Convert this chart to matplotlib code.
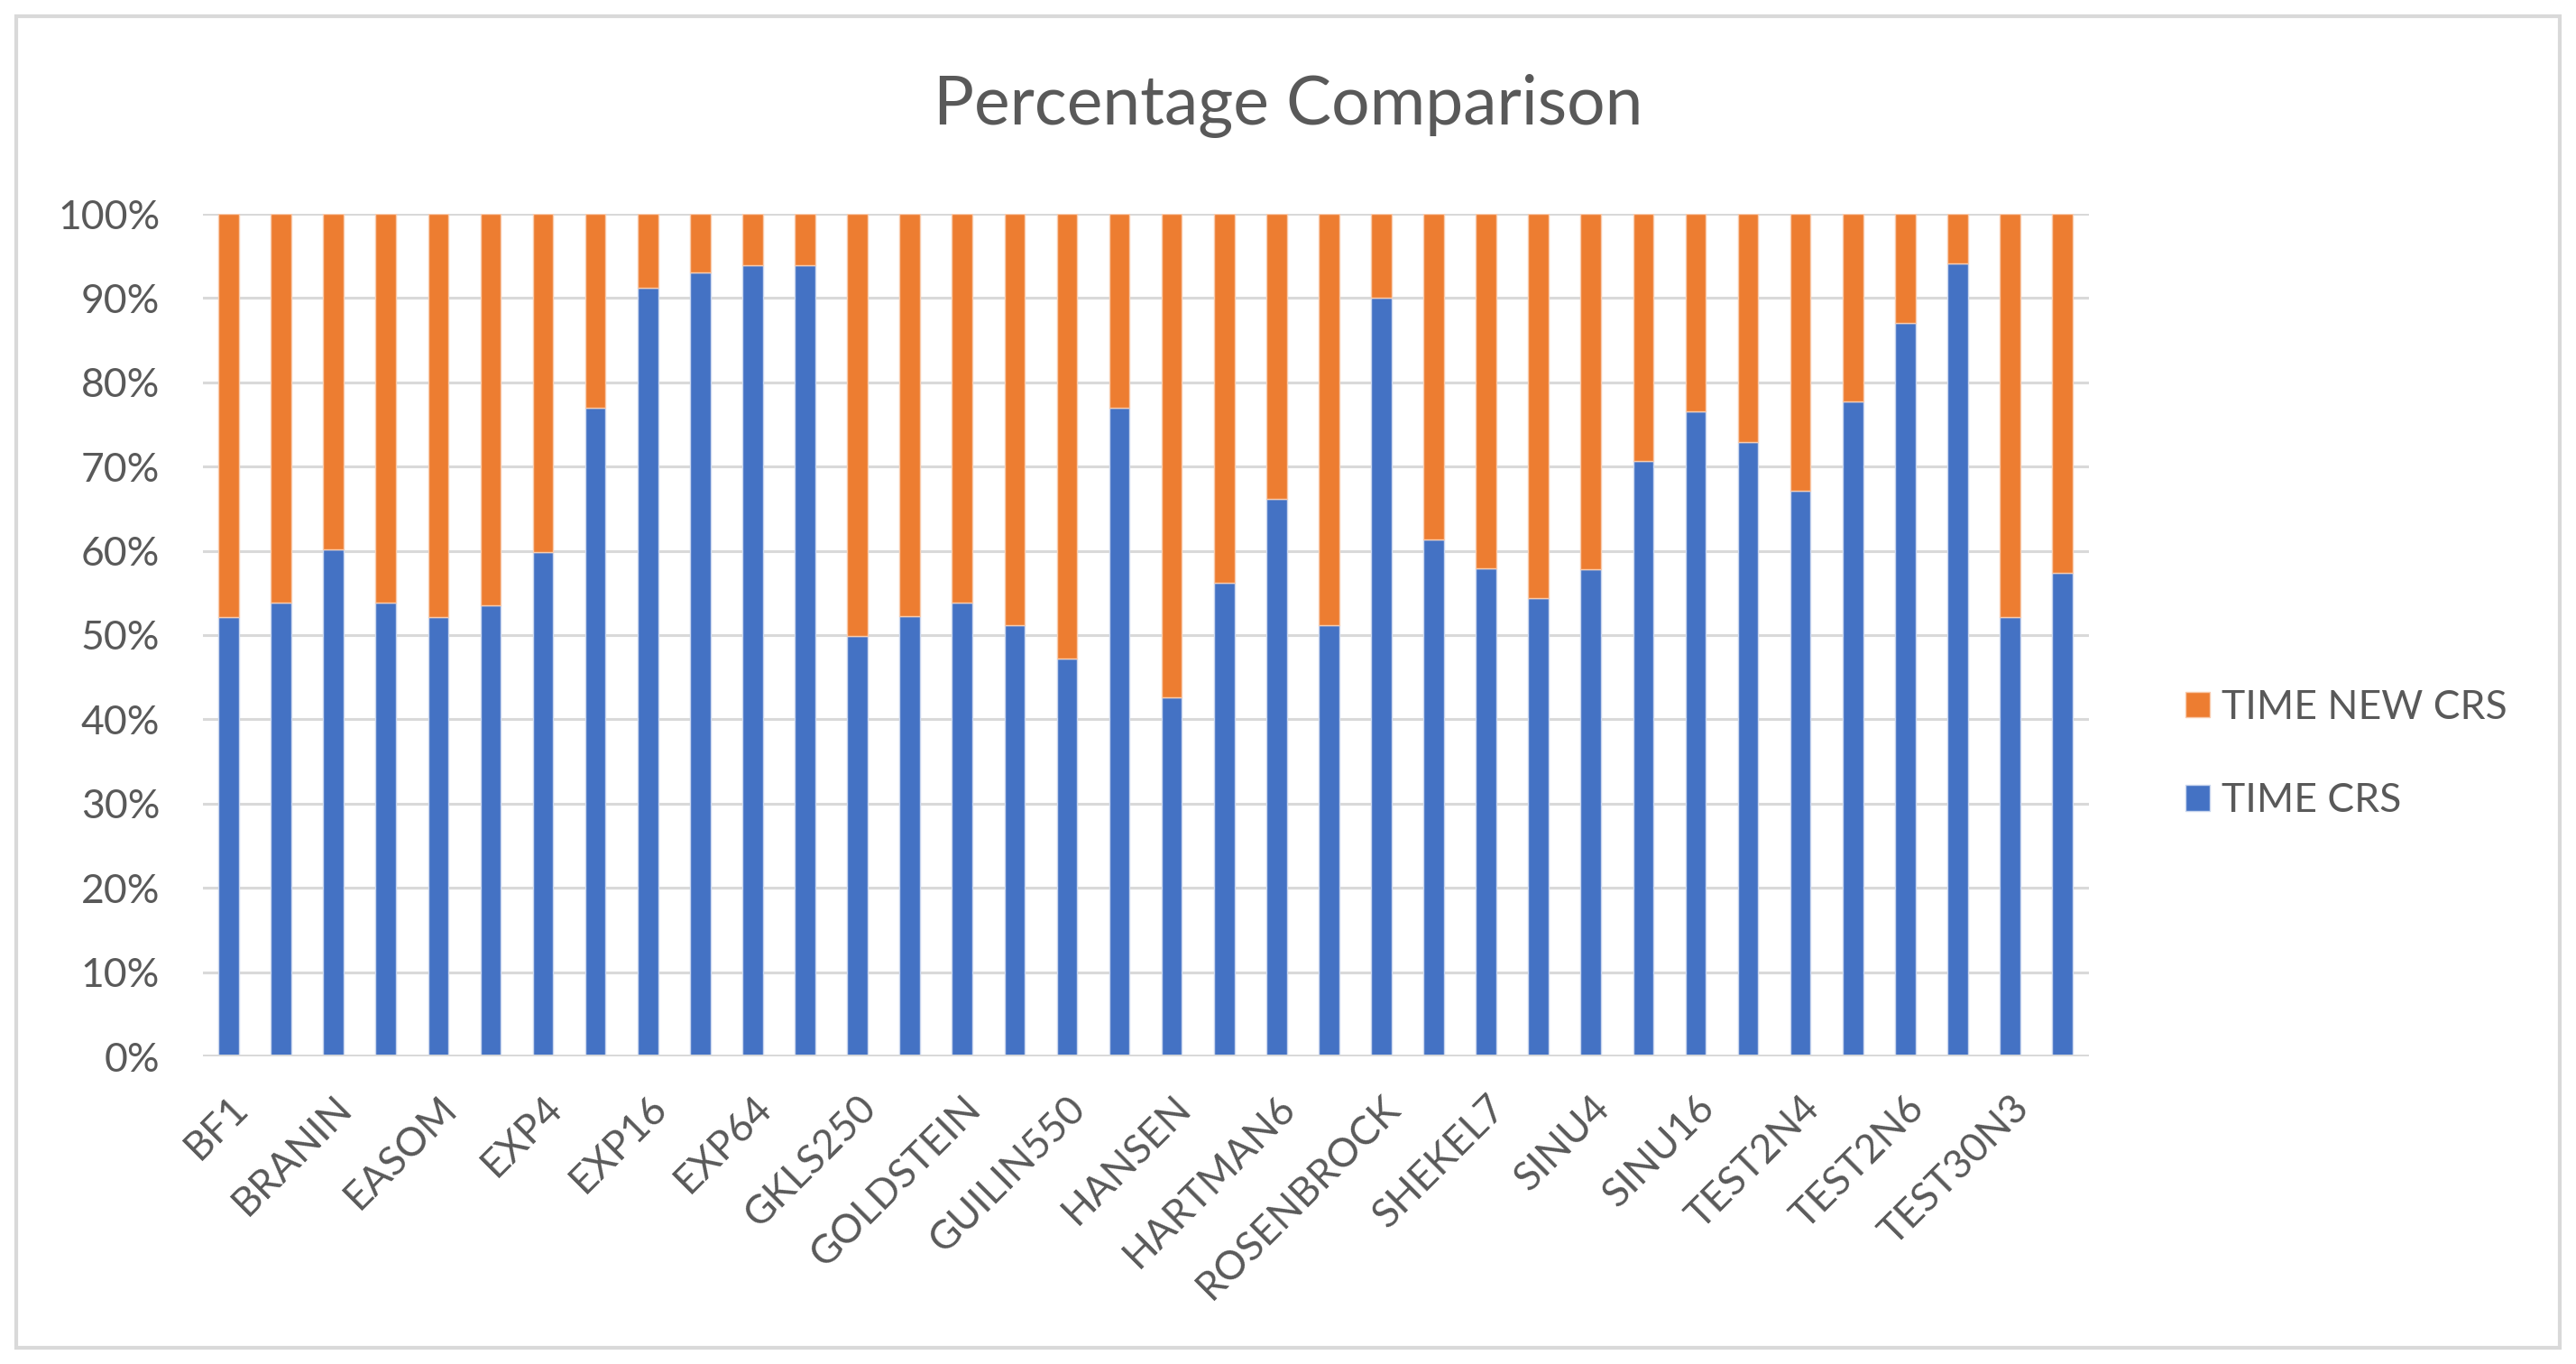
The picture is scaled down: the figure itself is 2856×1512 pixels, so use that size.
import numpy as np
import matplotlib.pyplot as plt
from matplotlib.patches import Rectangle

# benchmark functions (only every second name is printed on the axis)
problems = ['BF1', 'BF2', 'BRANIN', 'CAMEL', 'EASOM', 'EXP2', 'EXP4', 'EXP8',
            'EXP16', 'EXP32', 'EXP64', 'EXP100', 'GKLS250', 'GKLS350',
            'GOLDSTEIN', 'GRIEWANK2', 'GUILIN550', 'GUILIN1050', 'HANSEN',
            'HARTMAN3', 'HARTMAN6', 'POTENTIAL', 'ROSENBROCK', 'SHEKEL5',
            'SHEKEL7', 'SHEKEL10', 'SINU4', 'SINU8', 'SINU16', 'SINU32',
            'TEST2N4', 'TEST2N5', 'TEST2N6', 'TEST2N7', 'TEST30N3', 'TEST30N4']

# share of TIME CRS in percent
time_crs = [52.1, 53.9, 60.2, 53.9, 52.1, 53.5, 59.9, 77.0, 91.2, 93.0,
            93.9, 93.9, 49.9, 52.3, 53.9, 51.2, 47.2, 77.0, 42.6, 56.2,
            66.2, 51.2, 90.0, 61.3, 57.9, 54.4, 57.8, 70.7, 76.6, 72.9,
            67.1, 77.7, 87.0, 94.1, 52.1, 57.4]
time_new_crs = [100 - v for v in time_crs]

blue = '#4472C4'
orange = '#ED7D31'
txt = '#595959'
grid = '#D9D9D9'

plt.rcParams['font.family'] = ['Lato', 'DejaVu Sans']

fig = plt.figure(figsize=(14.28, 7.56), dpi=200)
ax = fig.add_axes([224.5 / 2856, 1 - 1171 / 1512, (2315.6 - 224.5) / 2856, (1171 - 237) / 1512])

x = np.arange(len(problems))
b1 = ax.bar(x, time_crs, width=0.39, color=blue, edgecolor='#C9D6EE', linewidth=0.5,
            label='TIME CRS', zorder=3)
b2 = ax.bar(x, time_new_crs, width=0.39, bottom=time_crs, color=orange, edgecolor='#F8CBAD',
            linewidth=0.5, label='TIME NEW CRS', zorder=3)

ax.set_xlim(-0.5, len(problems) - 0.5)
ax.set_ylim(0, 100)
ax.set_yticks(range(0, 101, 10), labels=[f'{v}%' for v in range(0, 101, 10)])
ax.yaxis.grid(True, color=grid, linewidth=1.1, zorder=0)
ax.set_axisbelow(True)
for s in ax.spines.values():
    s.set_visible(False)
ax.axhline(0, color=grid, linewidth=1.4, zorder=4)

ax.set_xticks(x[::2], labels=problems[::2], rotation=45, ha='right',
              rotation_mode='anchor')
ax.tick_params(axis='both', length=0, labelsize=16, labelcolor=txt)
ax.tick_params(axis='y', pad=17)
ax.tick_params(axis='x', pad=13)

fig.text(0.5, 0.922, 'Percentage Comparison', ha='center', va='center',
         fontsize=27, color=txt)

fig.legend([b2, b1], ['TIME NEW CRS', 'TIME CRS'], loc='center left',
           bbox_to_anchor=(2383 / 2856, 1 - 836 / 1512), frameon=False,
           fontsize=16, labelcolor=txt, handlelength=0.6, handleheight=0.6,
           handletextpad=0.3, labelspacing=1.4)

fig.patches.append(Rectangle((18 / 2856, 18 / 1512), 1 - 36 / 2856, 1 - 36 / 1512,
                             transform=fig.transFigure, fill=False,
                             edgecolor=grid, linewidth=1.5))

plt.savefig('out.png', dpi=200)
